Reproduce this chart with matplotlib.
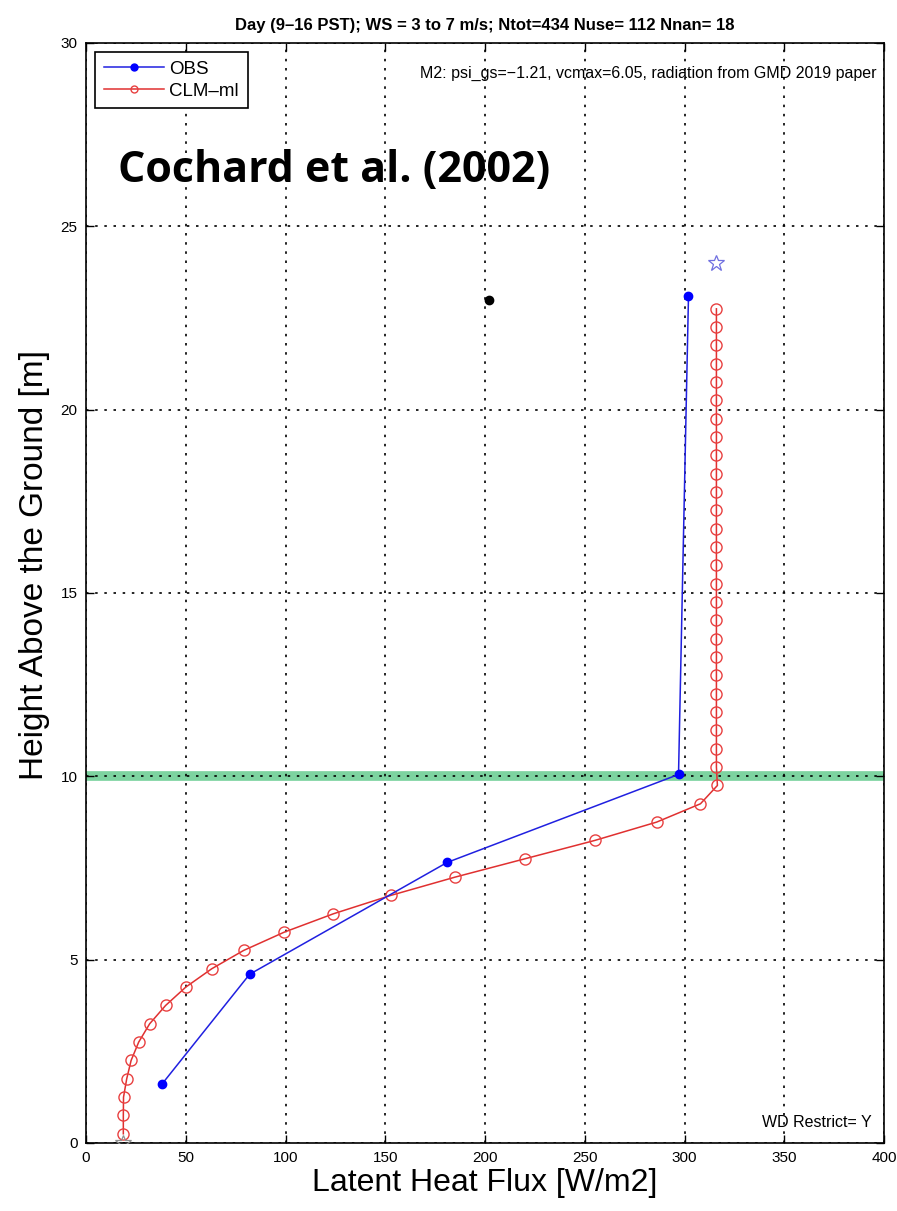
import numpy as np
import matplotlib.pyplot as plt
from matplotlib.lines import Line2D

plt.rcParams['font.family'] = ['Liberation Sans Narrow', 'Liberation Sans', 'DejaVu Sans']

# observed profile
obs_flux = [38, 82, 181, 297, 302]
obs_height = [1.6, 4.6, 7.65, 10.05, 23.1]

# CLM-ml model profile (layer centres)
clm_height = [0.25, 0.75, 1.25, 1.75, 2.25, 2.75, 3.25, 3.75, 4.25, 4.75,
              5.25, 5.75, 6.25, 6.75, 7.25, 7.75, 8.25, 8.75, 9.25, 9.75,
              10.25, 10.75, 11.25, 11.75, 12.25, 12.75, 13.25, 13.75, 14.25, 14.75,
              15.25, 15.75, 16.25, 16.75, 17.25, 17.75, 18.25, 18.75, 19.25, 19.75,
              20.25, 20.75, 21.25, 21.75, 22.25, 22.75]
clm_flux = [18.7, 18.7, 18.8, 20.4, 22.6, 26.4, 31.9, 39.9, 50, 63,
            79, 99.4, 124, 152.7, 185, 220, 255, 286, 308, 316.5,
            316, 316, 316, 316, 316, 316, 316, 316, 316, 316,
            316, 316, 316, 316, 316, 316, 316, 316, 316, 316,
            316, 316, 316, 316, 316, 316]

# extra single markers
black_pt = (202, 23.0)
star_top = (316, 24.0)
star_bot = (18.5, 0.0)
canopy_h = 10

fig = plt.figure(figsize=(8.97, 12.11), dpi=100)
ax = fig.add_axes([0.0959, 0.0562, 0.8896, 0.9083])

ax.axhline(canopy_h, color='#7dd3a0', lw=7, zorder=1)

ax.plot(obs_flux, obs_height, '-', color='#2020e0', lw=1.1, marker='o',
        ms=6, mfc='#0000ff', mec='#0000ff', zorder=4)
ax.plot(clm_flux, clm_height, '-', color='#e03030', lw=1.1, marker='o',
        ms=8, mfc='none', mec='#e84040', mew=1.0, zorder=3)
ax.plot(*black_pt, 'o', color='black', ms=6, zorder=5)
ax.plot(*star_top, '*', mfc='none', mec='#7070e0', ms=12, mew=0.9, zorder=5)
ax.plot(*star_bot, '*', mfc='none', mec='#909090', ms=12, mew=0.9, zorder=5)

ax.set_xlim(0, 400)
ax.set_ylim(0, 30)
ax.set_xticks([0, 50, 100, 150, 200, 250, 300, 350, 400])
ax.set_yticks([0, 5, 10, 15, 20, 25, 30])
ax.grid(True, color='black', ls=(0, (1.5, 4)), lw=1.2)
ax.tick_params(direction='in', top=True, right=True, length=6, width=1,
               labelsize=11, pad=6)
for s in ax.spines.values():
    s.set_linewidth(1.2)

ax.set_xlabel('Latent Heat Flux [W/m2]', fontsize=23, labelpad=2)
ax.set_ylabel('Height Above the Ground [m]', fontsize=24)
ax.yaxis.set_label_coords(-0.045, 0.525)
ax.set_title('Day (9\u201316 PST); WS = 3 to 7 m/s; Ntot=434 Nuse= 112 Nnan= 18',
             fontsize=12, fontweight='bold', pad=9)

ax.text(0.99, 0.979, 'M2: psi_gs=\u22121.21, vcmax=6.05, radiation from GMD 2019 paper',
        transform=ax.transAxes, ha='right', va='top', fontsize=11.5)
ax.text(0.985, 0.012, 'WD Restrict= Y', transform=ax.transAxes,
        ha='right', va='bottom', fontsize=11.5)
ax.text(0.04, 0.884, 'Cochard et al. (2002)', transform=ax.transAxes,
        ha='left', va='center', fontsize=31, fontweight='bold',
        family=['Open Sans', 'DejaVu Sans'], zorder=6)

handles = [Line2D([], [], color='#2020e0', lw=1.1, marker='o', ms=5,
                  mfc='#0000ff', mec='#0000ff'),
           Line2D([], [], color='#e03030', lw=1.1, marker='o', ms=5,
                  mfc='none', mec='#e84040')]
leg = ax.legend(handles, ['OBS', 'CLM\u2013ml'], loc='upper left', fontsize=13.5,
                fancybox=False, edgecolor='black', framealpha=1,
                borderaxespad=0.5, handlelength=3.2, handletextpad=0.3,
                labelspacing=0.25, borderpad=0.45)
leg.get_frame().set_linewidth(1.2)

fig.savefig('out.png', dpi=100)
